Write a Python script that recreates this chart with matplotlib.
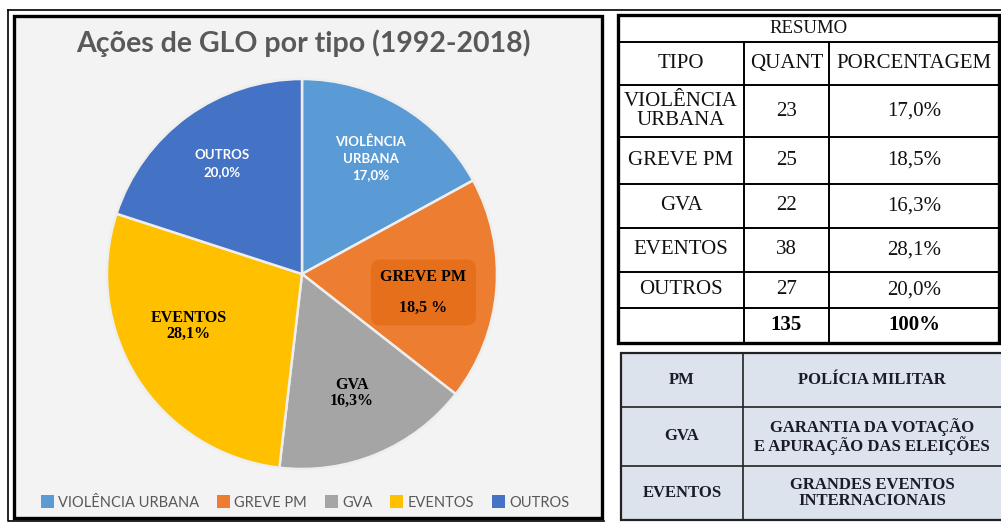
import numpy as np
import matplotlib
matplotlib.use("Agg")
import matplotlib.pyplot as plt
from matplotlib.patches import Rectangle

# dados
tipos = ["VIOLÊNCIA URBANA", "GREVE PM", "GVA", "EVENTOS", "OUTROS"]
nomes_pizza = ["VIOLÊNCIA\nURBANA", "GREVE PM", "GVA", "EVENTOS", "OUTROS"]
quant = [23, 25, 22, 38, 27]
siglas = ["PM", "GVA", "EVENTOS"]
significados = ["POLÍCIA MILITAR",
                "GARANTIA DA VOTAÇÃO\nE APURAÇÃO DAS ELEIÇÕES",
                "GRANDES EVENTOS\nINTERNACIONAIS"]

total = sum(quant)
pct = [q / total * 100 for q in quant]

def fmt(p, sep=""):
    return f"{p:.1f}".replace(".", ",") + sep + "%"

cores = ["#5B9BD5", "#ED7D31", "#A5A5A5", "#FFC000", "#4472C4"]
SERIF = "Liberation Serif"
SANS = "Lato"

W, H = 1001, 523
fig = plt.figure(figsize=(W / 100, H / 100), dpi=100)
bg = fig.add_axes([0, 0, 1, 1])
bg.set_xlim(0, W)
bg.set_ylim(H, 0)
bg.axis("off")

# moldura do gráfico
bg.plot([8, W], [10, 10], color="black", lw=1.2)
bg.plot([8, 8, 604], [10, 521, 521], color="black", lw=1.2)
bg.add_patch(Rectangle((14, 16), 588, 502, facecolor="#f3f3f3",
                       edgecolor="black", lw=2.4))

bg.text(303, 43, "Ações de GLO por tipo (1992-2018)", ha="center", va="center",
        fontsize=20.5, fontweight="bold", color="#595959", family=SANS)

# pizza
cx, cy, r = 302, 274, 195
pax = fig.add_axes([(cx - r) / W, (H - cy - r) / H, 2 * r / W, 2 * r / H])
pax.set_zorder(2)
wedges, _ = pax.pie(quant, colors=cores, startangle=90, counterclock=False,
                    radius=1, wedgeprops=dict(edgecolor="#eeeeee", linewidth=1.8))
pax.set_xlim(-1, 1)
pax.set_ylim(-1, 1)
pax.set_aspect("equal")
pax.axis("off")

lab_r = [0.69, 0.63, 0.66, 0.64, 0.70]
lab_da = [0, -4, 0, -8, 0]
for i, w in enumerate(wedges):
    ang = np.deg2rad((w.theta1 + w.theta2) / 2 + lab_da[i])
    x, y = lab_r[i] * np.cos(ang), lab_r[i] * np.sin(ang)
    if i in (0, 4):
        pax.text(x, y, nomes_pizza[i] + "\n" + fmt(pct[i]), ha="center", va="center",
                 color="white", fontsize=9.5, fontweight="bold", family=SANS,
                 linespacing=1.45)
    elif i == 1:
        pax.text(x, y, nomes_pizza[i] + "\n\n" + fmt(pct[i], " "), ha="center",
                 va="center", color="black", fontsize=11.5, fontweight="bold",
                 family=SERIF, linespacing=0.95,
                 bbox=dict(boxstyle="round,pad=0.6", facecolor="#E2660F",
                           edgecolor="none", alpha=0.6))
    else:
        pax.text(x, y, nomes_pizza[i] + "\n" + fmt(pct[i]), ha="center", va="center",
                 color="black", fontsize=11.5, fontweight="bold", family=SERIF,
                 linespacing=1.0)

leg = fig.legend(wedges, tipos, loc="center", bbox_to_anchor=(305 / W, 1 - 503 / H),
                 ncol=5, frameon=False, handlelength=0.7, handleheight=0.7,
                 handletextpad=0.5, columnspacing=1.2,
                 prop=dict(family=SANS, size=10.5), labelcolor="#595959")
for h in leg.legend_handles:
    h.set_linewidth(0)
    h.set_height(9.5)
    h.set_width(9.5)
    h.set_y(-1)

# tabela resumo
xs = [618, 744, 829, 999]
ys = [15, 42, 85, 137, 184, 228, 272, 308, 343]
bg.add_patch(Rectangle((xs[0], ys[0]), xs[-1] - xs[0], ys[-1] - ys[0],
                       facecolor="white", edgecolor="black", lw=2.4, zorder=3))
for y in ys[1:-1]:
    bg.plot([xs[0], xs[-1]], [y, y], color="black", lw=1.4, zorder=4)
for x in xs[1:-1]:
    bg.plot([x, x], [ys[1], ys[-1]], color="black", lw=1.4, zorder=4)

fs = 15
bg.text((xs[0] + xs[-1]) / 2, (ys[0] + ys[1]) / 2, "RESUMO", ha="center",
        va="center", fontsize=13.5, family=SERIF, color="#111111", zorder=5)
for j, h in enumerate(["TIPO", "QUANT", "PORCENTAGEM"]):
    bg.text((xs[j] + xs[j + 1]) / 2, (ys[1] + ys[2]) / 2, h, ha="center",
            va="center", fontsize=fs, family=SERIF, color="#111111", zorder=5)
for i in range(len(tipos)):
    yc = (ys[i + 2] + ys[i + 3]) / 2
    bg.text((xs[0] + xs[1]) / 2, yc, nomes_pizza[i], ha="center", va="center",
            fontsize=fs, family=SERIF, linespacing=1.0, color="#111111", zorder=5)
    bg.text((xs[1] + xs[2]) / 2, yc, str(quant[i]), ha="center", va="center",
            fontsize=fs, family=SERIF, color="#111111", zorder=5)
    bg.text((xs[2] + xs[3]) / 2, yc, fmt(pct[i]), ha="center", va="center",
            fontsize=fs, family=SERIF, color="#111111", zorder=5)
yc = (ys[-2] + ys[-1]) / 2
bg.text((xs[1] + xs[2]) / 2, yc, str(total), ha="center", va="center",
        fontsize=fs, fontweight="bold", family=SERIF, zorder=5)
bg.text((xs[2] + xs[3]) / 2, yc, f"{sum(pct):.0f}%", ha="center", va="center",
        fontsize=fs, fontweight="bold", family=SERIF, zorder=5)

# tabela de siglas
gx = [621, 743, 1003]
gy = [353, 407, 466, 520]
bg.add_patch(Rectangle((gx[0], gy[0]), gx[-1] - gx[0], gy[-1] - gy[0],
                       facecolor="#dde3ec", edgecolor="#222222", lw=1.6, zorder=3))
for y in gy[1:-1]:
    bg.plot([gx[0], gx[-1]], [y, y], color="#222222", lw=1.2, zorder=4)
bg.plot([gx[1], gx[1]], [gy[0], gy[-1]], color="#222222", lw=1.2, zorder=4)
for i in range(len(siglas)):
    yc = (gy[i] + gy[i + 1]) / 2
    bg.text((gx[0] + gx[1]) / 2, yc, siglas[i], ha="center", va="center",
            fontsize=12, fontweight="bold", family=SERIF, color="#1a1a2a", zorder=5)
    bg.text(872, yc, significados[i], ha="center", va="center", fontsize=12,
            fontweight="bold", family=SERIF, color="#1a1a2a", linespacing=1.05,
            zorder=5)

fig.savefig("out.png", dpi=100)
